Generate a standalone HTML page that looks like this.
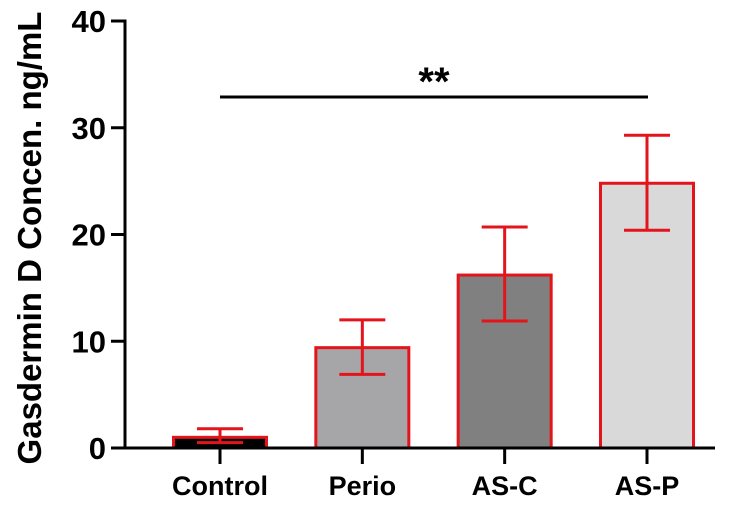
<!DOCTYPE html>
<html><head><meta charset="utf-8"><style>
html,body{margin:0;padding:0;background:#fff;}
svg{display:block;font-family:"Liberation Sans",Arial,sans-serif;font-weight:bold;}
</style></head><body>
<svg id="chart" width="750" height="506" viewBox="0 0 750 506"></svg>
<script>
const categories = ["Control","Perio","AS-C","AS-P"];
const means = [1.0, 9.4, 16.2, 24.8];
const errLow = [0.5, 6.9, 11.9, 20.4];
const errHigh = [1.8, 12.0, 20.7, 29.3];
const fills = ["#000000","#a6a6a8","#808080","#d9d9d9"];
const yTicks = [0,10,20,30,40];

const NS="http://www.w3.org/2000/svg";
const svg=document.getElementById("chart");
const x0=125, yBase=448, yTop=21, yMax=40;
const y=v=>yBase-(v/yMax)*(yBase-yTop);
const centers=[220,362,506,647];
const xc=i=>centers[0]+i*((centers[3]-centers[0])/3);
const bw=93;
function mk(tag,attrs,text){const e=document.createElementNS(NS,tag);for(const k in attrs)e.setAttribute(k,attrs[k]);if(text!==undefined)e.textContent=text;svg.appendChild(e);return e;}

categories.forEach((c,i)=>{
  const cx=xc(i);
  const b=mk("rect",{x:cx-bw/2,y:y(means[i]),width:bw,height:yBase-y(means[i]),fill:fills[i],stroke:"#e3141b","stroke-width":3});
  
  
  const g=[[cx,y(errLow[i]),cx,y(errHigh[i])],[cx-23,y(errLow[i]),cx+23,y(errLow[i])],[cx-23,y(errHigh[i]),cx+23,y(errHigh[i])]];
  g.forEach(l=>{const e=mk("line",{x1:l[0],y1:l[1],x2:l[2],y2:l[3],stroke:"#e3141b","stroke-width":3});
    
    });
  const t=mk("line",{x1:cx,y1:yBase,x2:cx,y2:464,stroke:"#000","stroke-width":3});
  
  
  const lb=mk("text",{x:cx,y:495,"text-anchor":"middle","font-size":27},c);
  
  
});

yTicks.forEach(v=>{
  const t=mk("line",{x1:111,y1:y(v),x2:x0,y2:y(v),stroke:"#000","stroke-width":3});
  
  
  const l=mk("text",{x:106,y:y(v)+11,"text-anchor":"end","font-size":31},String(v));
  
  
});
const ya=mk("line",{x1:x0,y1:yTop-1.5,x2:x0,y2:yBase+1.5,stroke:"#000","stroke-width":3});


const xa=mk("line",{x1:x0,y1:yBase,x2:715,y2:yBase,stroke:"#000","stroke-width":3});


const yt=mk("text",{x:0,y:0,transform:"translate(41,238) rotate(-90)","text-anchor":"middle","font-size":33},"Gasdermin D Concen. ng/mL");


const sl=mk("line",{x1:220,y1:97,x2:648,y2:97,stroke:"#000","stroke-width":3});


const st=mk("text",{x:434,y:95,"text-anchor":"middle","font-size":40},"**");


</script>
</body></html>
